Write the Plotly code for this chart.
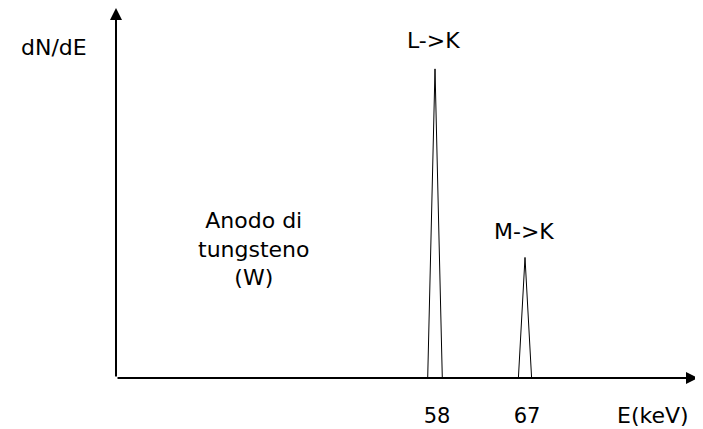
import plotly.graph_objects as go

# line energies (keV) and relative peak heights
peak_energy = [58, 67]
peak_height = [100, 39]
peak_halfwidth = [0.73, 0.66]
peak_label = ['L->K', 'M->K']

tick_vals = [58, 67]
tick_text = ['58', '67']

x_range = [26.1, 84.3]
y_range = [0, 119.7]

FONT = 'DejaVu Sans'
TXT = dict(family=FONT, size=22, color='black')

fig = go.Figure()

for e, h, w in zip(peak_energy, peak_height, peak_halfwidth):
    fig.add_trace(
        go.Scatter(
            x=[e - w, e, e + w],
            y=[0, h, 0],
            mode='lines',
            line=dict(color='black', width=1),
            showlegend=False,
            hoverinfo='skip'
        )
    )

annotations = []
# axis arrows
annotations.append(dict(
    x=x_range[1], y=0, ax=x_range[0], ay=0,
    xref='x', yref='y', axref='x', ayref='y',
    showarrow=True, arrowhead=2, arrowsize=1.2, arrowwidth=2,
    arrowcolor='black', text='', standoff=0
))
annotations.append(dict(
    x=x_range[0], y=y_range[1], ax=x_range[0], ay=0,
    xref='x', yref='y', axref='x', ayref='y',
    showarrow=True, arrowhead=2, arrowsize=1.2, arrowwidth=2,
    arrowcolor='black', text='', standoff=0
))

# peak labels
label_y = [109.2, 47.4]
for e, txt, ly in zip(peak_energy, peak_label, label_y):
    annotations.append(dict(
        x=e - 0.12, y=ly, xref='x', yref='y', text=txt, showarrow=False,
        xanchor='center', yanchor='middle', font=TXT
    ))

annotations += [
    dict(x=-0.1057, y=0.892, xref='paper', yref='paper', text='dN/dE',
         showarrow=False, xanchor='center', yanchor='middle', font=TXT),
    dict(x=39.9, y=41.6, xref='x', yref='y', text='Anodo di<br>tungsteno<br>(W)',
         showarrow=False, align='center', xanchor='center', yanchor='middle',
         font=TXT),
    dict(x=0.9235, y=-0.1, xref='paper', yref='paper', text='E(keV)',
         showarrow=False, xanchor='center', yanchor='middle', font=TXT),
]

# page body has an 8px margin, so the figure is sized/offset to compensate
fig.update_layout(
    width=695, height=421,
    margin=dict(l=108, r=5, t=0, b=51),
    paper_bgcolor='white',
    plot_bgcolor='white',
    xaxis=dict(
        range=x_range, showgrid=False, zeroline=False, showline=False,
        tickvals=tick_vals, ticktext=tick_text, ticks='',
        tickfont=dict(family=FONT, size=21, color='black'),
        ticklabelstandoff=23, ticklabelshift=2
    ),
    yaxis=dict(
        range=y_range, showgrid=False, zeroline=False, showline=False,
        showticklabels=False, ticks=''
    ),
    annotations=annotations
)

fig.write_html('out.html')
